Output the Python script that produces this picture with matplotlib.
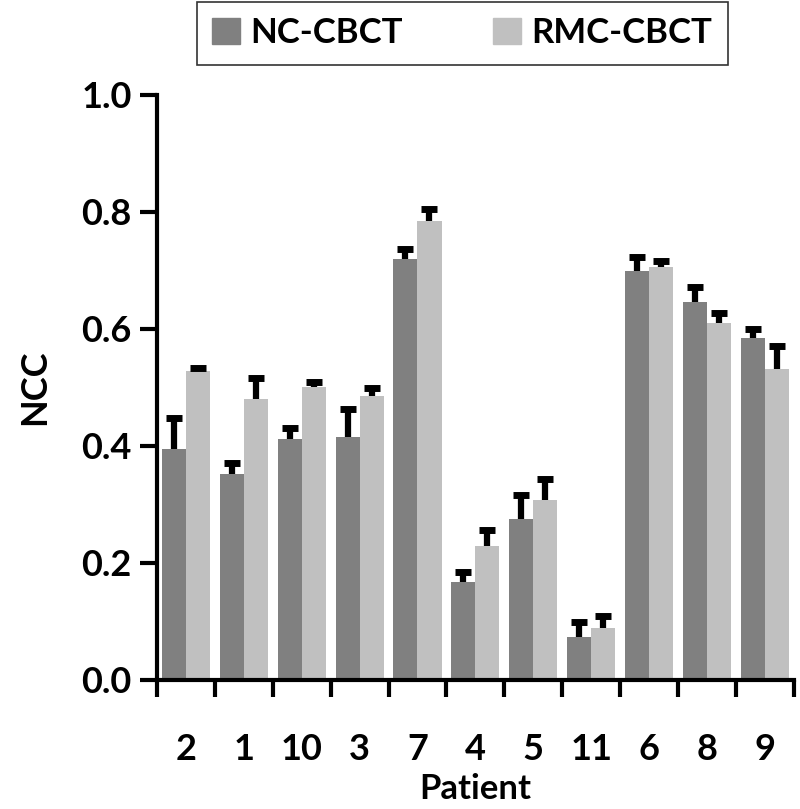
import numpy as np
import matplotlib
matplotlib.use('Agg')
import matplotlib.pyplot as plt
from matplotlib.patches import Patch

plt.rcParams['font.family'] = ['Lato', 'DejaVu Sans']
plt.rcParams['font.weight'] = 'bold'

# data
patients = ['2', '1', '10', '3', '7', '4', '5', '11', '6', '8', '9']
nc_mean = [0.394, 0.352, 0.412, 0.415, 0.720, 0.168, 0.275, 0.073, 0.699, 0.646, 0.585]
nc_err = [0.053, 0.019, 0.019, 0.048, 0.017, 0.016, 0.042, 0.026, 0.024, 0.025, 0.015]
rmc_mean = [0.528, 0.480, 0.501, 0.485, 0.785, 0.229, 0.308, 0.089, 0.706, 0.611, 0.532]
rmc_err = [0.006, 0.036, 0.009, 0.014, 0.020, 0.027, 0.035, 0.021, 0.010, 0.016, 0.039]

dark = '#808080'
light = '#c0c0c0'

fig = plt.figure(figsize=(8, 8.09), dpi=100)
ax = fig.add_axes([0.196, 0.1595, 0.7965, 0.7231])

x = np.arange(len(patients))
w = 0.415
ax.bar(x - w/2, nc_mean, w, color=dark, zorder=2)
ax.bar(x + w/2, rmc_mean, w, color=light, zorder=2)
for xs, m, e in [(x - w/2, nc_mean, nc_err), (x + w/2, rmc_mean, rmc_err)]:
    eb = ax.errorbar(xs, m, yerr=[np.zeros(len(x)), e], fmt='none',
                     ecolor='black', elinewidth=4.5, capsize=6, capthick=5, zorder=3)
    # one-sided: hide the cap at the bar top
    eb[1][0].set_visible(False)

ax.set_xlim(-0.5, len(x) - 0.5)
ax.set_ylim(0, 1.0)
ax.set_yticks(np.arange(0, 1.01, 0.2))
ax.set_yticklabels(['%.1f' % v for v in np.arange(0, 1.01, 0.2)])
ax.set_xticks(x)
ax.set_xticklabels(patients)
ax.set_xticks(np.arange(-0.5, len(x), 1.0), minor=True)
ax.tick_params(axis='x', which='major', length=0, pad=38, labelsize=26)
ax.tick_params(axis='x', which='minor', length=12, width=3, direction='out')
ax.tick_params(axis='y', length=12, width=3, direction='out', labelsize=26, pad=6)

for s in ['top', 'right']:
    ax.spines[s].set_visible(False)
for s in ['left', 'bottom']:
    ax.spines[s].set_linewidth(3)

ax.set_ylabel('NCC', fontsize=26, fontweight='bold', labelpad=22)
ax.set_xlabel('Patient', fontsize=25, fontweight='bold', labelpad=5)

handles = [Patch(color=dark, label='NC-CBCT'), Patch(color=light, label='RMC-CBCT')]
leg = fig.legend(handles=handles, loc='center', bbox_to_anchor=(0.578, 0.959),
                 ncol=2, fontsize=25, frameon=True, fancybox=False,
                 edgecolor='black', handlelength=0.8, handleheight=0.8,
                 columnspacing=2.6, borderpad=0.45, handletextpad=0.3)
leg.get_frame().set_linewidth(1.2)
leg.get_frame().set_boxstyle('square', pad=0.0)
for t in leg.get_texts():
    t.set_fontweight('bold')

fig.savefig('out.png', dpi=100)
